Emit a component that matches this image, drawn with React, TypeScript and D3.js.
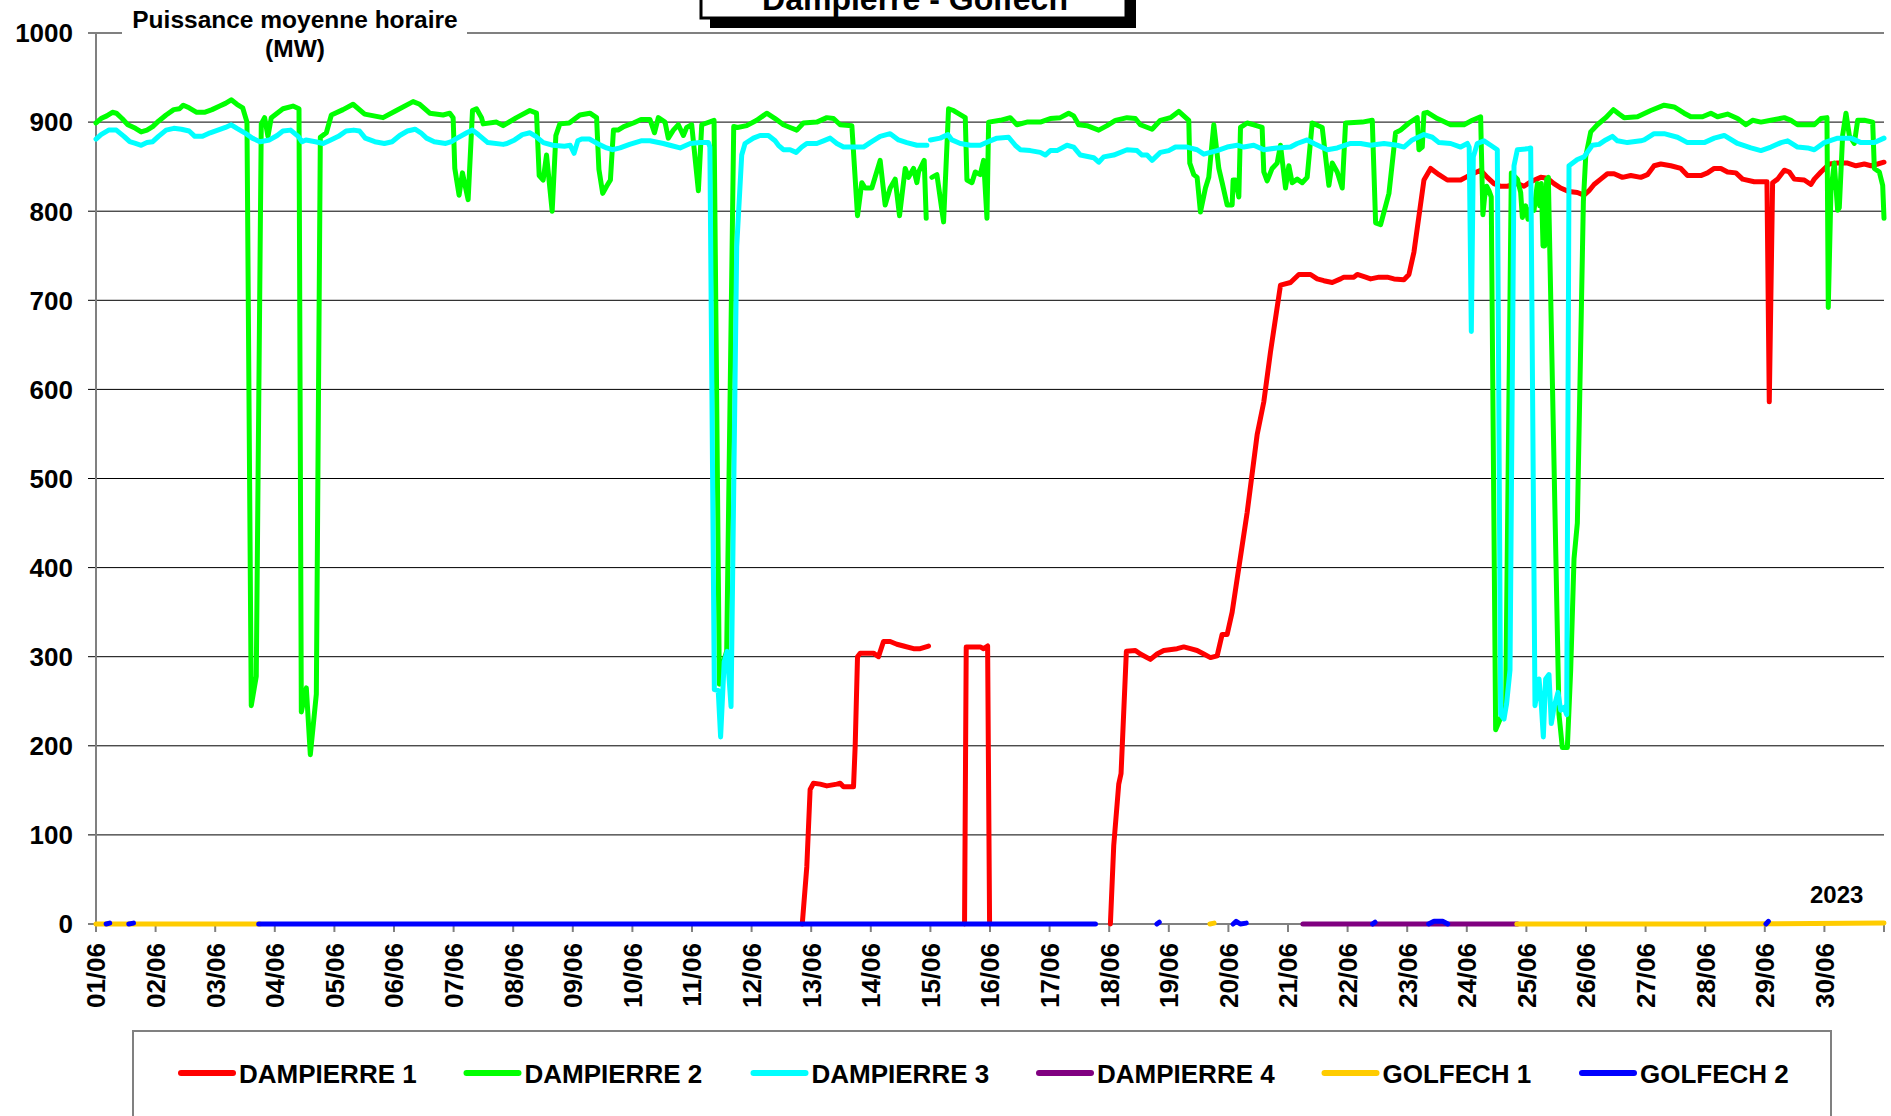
import React from 'react';
import * as d3 from 'd3';

type P = [number, number | null];

const dayLabels = ['01/06','02/06','03/06','04/06','05/06','06/06','07/06','08/06','09/06','10/06','11/06','12/06','13/06','14/06','15/06','16/06','17/06','18/06','19/06','20/06','21/06','22/06','23/06','24/06','25/06','26/06','27/06','28/06','29/06','30/06'];
const yTickValues = [0, 100, 200, 300, 400, 500, 600, 700, 800, 900, 1000];
const seriesNames = ['DAMPIERRE 1', 'DAMPIERRE 2', 'DAMPIERRE 3', 'DAMPIERRE 4', 'GOLFECH 1', 'GOLFECH 2'];
const seriesColors = ['#FF0000', '#00FF00', '#00FFFF', '#800080', '#FFCC00', '#0000FF'];
const chartTitle = 'Dampierre - Golfech';
const yTitle = ['Puissance moyenne horaire', '(MW)'];
const yearLabel = '2023';

// [day offset from 01/06 00:00, MW]; null = no data
const dampierre1: P[] = [
  [11.85,0],[11.926,64],[11.982,151],[12.038,158],[12.15,157],[12.262,155],[12.43,157],[12.486,158],[12.542,154],[12.71,154],[12.738,200],[12.777,300],[12.822,304],[13.045,304],[13.129,300],[13.213,317],[13.325,317],[13.437,314],[13.549,312],[13.717,309],[13.829,309],[13.969,312],
  [14.2,null],
  [14.573,0],[14.601,311],[14.753,311],[14.837,311],[14.893,309],[14.96,312],[14.993,0],
  [16,null],
  [17.02,0],[17.076,88],[17.16,157],[17.199,169],[17.288,306],[17.439,307],[17.523,303],[17.691,297],[17.803,303],[17.915,307],[18.139,309],[18.251,311],[18.363,309],[18.475,307],[18.587,303],[18.699,299],[18.811,301],[18.895,325],[18.979,325],[19.063,350],[19.175,400],[19.315,462],[19.482,549],[19.594,586],[19.706,642],[19.874,717],[20.042,720],[20.182,729],[20.378,729],[20.49,724],[20.602,722],[20.742,720],[20.882,724],[20.938,726],[21.106,726],[21.162,729],[21.302,726],[21.386,724],[21.526,726],[21.666,726],[21.778,724],[21.945,723],[22.029,729],[22.113,754],[22.281,835],[22.393,848],[22.533,841],[22.673,835],[22.897,835],[22.981,838],[23.064,841],[23.232,846],[23.344,838],[23.456,831],[23.568,828],[23.68,828],[23.848,831],[23.96,828],[24.072,833],[24.24,838],[24.351,837],[24.463,831],[24.575,826],[24.715,822],[24.855,821],[24.967,818],[25.051,823],[25.135,830],[25.247,836],[25.359,842],[25.471,842],[25.611,838],[25.751,840],[25.92,838],[26.031,841],[26.143,851],[26.255,853],[26.423,851],[26.591,848],[26.703,840],[26.927,840],[27.039,843],[27.151,848],[27.263,848],[27.375,844],[27.515,843],[27.627,836],[27.823,833],[28.036,833],[28.075,586],[28.131,832],[28.215,836],[28.327,846],[28.411,844],[28.495,836],[28.662,835],[28.774,830],[28.83,836],[28.942,844],[29.082,853],[29.222,854],[29.39,854],[29.53,851],[29.67,853],[29.782,851],[29.894,853],[30,855]
];

const dampierre2: P[] = [
  [0,899],[0.084,904],[0.18,907],[0.276,911],[0.341,910],[0.437,904],[0.534,897],[0.662,893],[0.758,889],[0.855,891],[0.951,895],[1.048,901],[1.176,908],[1.305,914],[1.401,915],[1.465,919],[1.562,916],[1.69,911],[1.819,911],[1.947,914],[2.076,918],[2.172,921],[2.269,925],[2.365,920],[2.461,916],[2.533,900],[2.605,245],[2.689,278],[2.773,898],[2.829,905],[2.885,884],[2.941,905],[3.137,915],[3.305,918],[3.406,915],[3.445,238],[3.529,265],[3.596,190],[3.697,258],[3.764,883],[3.865,888],[3.949,908],[4.145,914],[4.313,920],[4.508,909],[4.816,905],[5.04,913],[5.32,923],[5.432,920],[5.6,910],[5.824,908],[5.936,910],[5.992,905],[6.02,848],[6.092,818],[6.148,843],[6.244,813],[6.317,913],[6.384,915],[6.468,905],[6.496,898],[6.72,900],[6.831,896],[7.055,905],[7.279,913],[7.391,910],[7.436,840],[7.503,835],[7.559,863],[7.654,800],[7.716,885],[7.783,898],[7.94,899],[8.119,908],[8.287,910],[8.399,905],[8.438,847],[8.502,820],[8.567,828],[8.631,835],[8.682,891],[8.759,891],[8.855,895],[9.016,899],[9.145,903],[9.295,903],[9.37,888],[9.435,905],[9.547,900],[9.603,882],[9.687,891],[9.771,897],[9.855,885],[9.911,894],[9.995,897],[10.107,823],[10.163,897],[10.37,902],[10.459,269],[10.498,288],[10.582,306],[10.7,895],[10.762,894],[10.918,896],[11.086,902],[11.254,910],[11.394,904],[11.534,897],[11.646,894],[11.758,891],[11.87,899],[12.094,900],[12.262,905],[12.374,904],[12.486,897],[12.682,896],[12.777,795],[12.849,832],[12.905,826],[13.017,826],[13.157,857],[13.241,807],[13.325,826],[13.409,836],[13.482,795],[13.577,848],[13.633,838],[13.717,848],[13.773,832],[13.801,844],[13.896,857],[13.93,792],
  [13.97,null],
  [14.025,838],[14.109,841],[14.221,788],[14.305,915],[14.389,913],[14.585,905],[14.613,835],[14.697,832],[14.753,844],[14.837,841],[14.893,857],[14.949,792],[14.977,900],[15.172,902],[15.34,905],[15.452,897],[15.62,900],[15.844,900],[16.012,904],[16.18,905],[16.32,910],[16.404,907],[16.488,897],[16.628,896],[16.824,891],[16.964,896],[17.104,902],[17.299,905],[17.439,904],[17.523,897],[17.719,892],[17.859,902],[18.027,905],[18.167,912],[18.335,902],[18.352,854],[18.419,841],[18.475,838],[18.531,799],[18.615,826],[18.671,838],[18.755,897],[18.839,848],[18.895,832],[18.979,807],[19.063,807],[19.079,835],[19.119,835],[19.175,816],[19.203,894],[19.315,899],[19.426,897],[19.566,894],[19.594,844],[19.65,834],[19.734,848],[19.818,854],[19.874,874],[19.958,826],[20.014,851],[20.07,832],[20.154,836],[20.238,832],[20.322,838],[20.406,899],[20.574,894],[20.686,829],[20.742,854],[20.826,844],[20.91,826],[20.966,899],[21.246,900],[21.414,902],[21.47,787],[21.554,785],[21.694,820],[21.805,888],[21.889,891],[22.029,899],[22.169,905],[22.197,869],[22.253,872],[22.281,910],[22.337,911],[22.505,904],[22.729,897],[22.953,897],[23.093,902],[23.232,906],[23.27,796],[23.299,816],[23.333,828],[23.372,823],[23.41,816],[23.484,218],[23.652,245],[23.747,843],[23.848,836],[23.904,821],[23.932,793],[23.988,806],[24.027,791],[24.072,803],[24.128,801],[24.184,831],[24.223,806],[24.251,831],[24.279,761],[24.307,761],[24.34,836],[24.368,838],[24.547,235],[24.603,198],[24.687,198],[24.743,285],[24.799,410],[24.855,450],[24.956,811],[24.995,861],[25.079,889],[25.191,897],[25.331,905],[25.46,914],[25.555,909],[25.639,905],[25.864,906],[26.087,913],[26.311,919],[26.479,917],[26.647,910],[26.759,906],[26.955,906],[27.095,910],[27.207,906],[27.375,909],[27.543,904],[27.683,897],[27.795,902],[27.935,900],[28.103,902],[28.327,905],[28.439,902],[28.55,897],[28.83,897],[28.942,904],[29.043,905],[29.065,692],[29.11,823],[29.166,854],[29.222,801],[29.25,804],[29.306,885],[29.362,910],[29.418,885],[29.502,876],[29.558,902],[29.67,902],[29.81,900],[29.838,848],[29.922,844],[29.978,829],[30,792]
];

const dampierre3: P[] = [
  [0,881],[0.084,886],[0.212,891],[0.341,891],[0.469,884],[0.566,878],[0.662,876],[0.758,874],[0.855,877],[0.951,878],[1.048,884],[1.176,891],[1.305,893],[1.433,892],[1.562,890],[1.658,884],[1.787,884],[1.915,888],[2.044,891],[2.172,894],[2.269,897],[2.365,893],[2.494,888],[2.622,882],[2.751,878],[2.911,880],[3.04,885],[3.136,890],[3.265,891],[3.393,884],[3.457,878],[3.522,880],[3.682,878],[3.811,876],[3.939,880],[4.068,884],[4.196,890],[4.325,891],[4.421,890],[4.518,882],[4.678,878],[4.839,876],[4.968,878],[5.096,885],[5.225,890],[5.353,892],[5.45,888],[5.546,882],[5.675,878],[5.868,876],[5.964,878],[6.06,882],[6.221,888],[6.317,891],[6.414,886],[6.574,877],[6.831,875],[6.896,876],[7.024,880],[7.153,886],[7.281,888],[7.378,884],[7.506,877],[7.667,874],[7.86,873],[7.956,874],[8.021,865],[8.085,879],[8.149,881],[8.278,881],[8.438,875],[8.567,871],[8.663,869],[8.792,871],[8.953,875],[9.145,879],[9.295,879],[9.52,876],[9.63,874],[9.8,871],[9.97,876],[10.135,877],[10.275,877],[10.3,872],[10.375,263],[10.44,262],[10.48,210],[10.54,294],[10.59,306],[10.655,244],[10.75,760],[10.834,863],[10.89,876],[11.03,882],[11.142,885],[11.282,885],[11.394,879],[11.45,874],[11.534,869],[11.646,869],[11.747,866],[11.842,872],[11.926,876],[12.094,876],[12.206,879],[12.318,882],[12.43,876],[12.542,872],[12.766,872],[12.877,872],[12.989,877],[13.157,884],[13.325,887],[13.465,880],[13.605,877],[13.773,874],[13.941,874],
  [13.97,null],
  [14,880],[14.165,882],[14.294,886],[14.361,880],[14.501,876],[14.669,874],[14.837,874],[15.004,879],[15.116,882],[15.312,883],[15.424,874],[15.508,869],[15.676,868],[15.844,866],[15.928,863],[16.012,868],[16.124,868],[16.292,874],[16.404,872],[16.516,863],[16.74,860],[16.824,855],[16.908,861],[17.076,863],[17.299,869],[17.467,868],[17.551,863],[17.635,863],[17.719,857],[17.859,866],[17.999,868],[18.111,872],[18.307,872],[18.475,869],[18.587,864],[18.811,868],[18.979,872],[19.147,874],[19.259,872],[19.426,874],[19.594,869],[19.818,871],[20.042,872],[20.154,876],[20.322,880],[20.434,876],[20.658,869],[20.826,871],[21.05,876],[21.218,876],[21.386,874],[21.61,876],[21.834,874],[21.945,872],[22.085,880],[22.281,886],[22.421,883],[22.533,877],[22.729,876],[22.897,872],[23.009,876],[23.04,872],[23.076,665],[23.109,861],[23.176,876],[23.288,879],[23.4,874],[23.512,869],[23.568,235],[23.624,230],[23.669,248],[23.725,285],[23.792,851],[23.848,869],[24.016,870],[24.072,871],[24.144,245],[24.212,275],[24.251,245],[24.284,210],[24.323,275],[24.379,280],[24.418,225],[24.463,243],[24.53,260],[24.575,240],[24.631,243],[24.676,235],[24.715,851],[24.855,858],[24.967,861],[25.107,874],[25.219,875],[25.331,880],[25.443,884],[25.527,879],[25.695,877],[25.919,879],[25.976,880],[26.143,887],[26.311,887],[26.535,883],[26.703,877],[26.983,877],[27.151,882],[27.319,885],[27.543,876],[27.767,871],[27.935,868],[28.103,872],[28.271,877],[28.383,879],[28.55,872],[28.718,871],[28.83,869],[28.998,877],[29.222,882],[29.446,882],[29.614,877],[29.838,877],[30,882]
];

const dampierre4: P[] = [[20.25,0],[21.1,0],[22.0,0],[23.85,0]];

const golfech1: P[] = [
  [0,0],[1.4,0],[2.75,0],
  [5,null],
  [18.69,0],[18.76,1],
  [20,null],
  [23.84,0],[27,0],[30,1]
];

const golfech2: P[] = [
  [0.17,0],[0.23,1],
  [0.4,null],
  [0.55,0],[0.63,1],
  [1,null],
  [2.73,0],[10,0],[16.77,0],
  [17.2,null],
  [17.8,0],[17.84,2],
  [18.5,null],
  [19.08,0],[19.13,3],[19.2,0],[19.3,1],
  [20.5,null],
  [21.42,0],[21.46,2],
  [22,null],
  [22.36,0],[22.45,3],[22.6,3],[22.68,0],
  [25,null],
  [28.02,0],[28.06,3]
];

const seriesData: P[][] = [dampierre1, dampierre2, dampierre3, dampierre4, golfech1, golfech2];

export default function App() {
  const W = 1891;
  const H = 1116;
  const left = 96;
  const right = 1884;
  const top = 33;
  const bottom = 924;
  const x = d3.scaleLinear().domain([0, 30]).range([left, right]);
  const y = d3.scaleLinear().domain([0, 1000]).range([bottom, top]);
  const line = d3
    .line<P>()
    .defined((d) => d[1] !== null)
    .x((d) => x(d[0]))
    .y((d) => y(d[1] as number));

  const font = "'Liberation Sans', Arial, Helvetica, sans-serif";
  const legendX = [181, 466.5, 753.5, 1039, 1324.5, 1582];
  const dayTicks = d3.range(0, 31);

  return (
    <svg
      width={W}
      height={H}
      viewBox={`0 0 ${W} ${H}`}
      style={{ position: 'absolute', left: 0, top: 0, background: '#fff', fontFamily: font }}
    >
      <rect x={0} y={0} width={W} height={H} fill="#fff" />

      {yTickValues.map((v) => {
        const isEdge = v === 0 || v === 1000;
        return (
          <line
            key={'g' + v}
            x1={left - 8}
            x2={right}
            y1={y(v)}
            y2={y(v)}
            stroke={isEdge ? '#808080' : '#000'}
            strokeWidth={isEdge ? 2 : 1}
          />
        );
      })}

      <line x1={left} x2={left} y1={top} y2={bottom + 8} stroke="#808080" strokeWidth={2} />
      {dayTicks.map((d) => (
        <line key={'xt' + d} x1={x(d)} x2={x(d)} y1={bottom} y2={bottom + 8} stroke="#808080" strokeWidth={2} />
      ))}

      {yTickValues.map((v) => (
        <text key={'yl' + v} x={73} y={y(v)} dy="0.36em" textAnchor="end" fontSize={26} fontWeight="bold" fill="#000">
          {v}
        </text>
      ))}

      {dayLabels.map((lab, i) => (
        <text
          key={'xl' + i}
          transform={`translate(${x(i)},943) rotate(-90)`}
          dy="0.36em"
          textAnchor="end"
          fontSize={26}
          fontWeight="bold"
          fill="#000"
        >
          {lab}
        </text>
      ))}

      {seriesData.map((data, i) => (
        <path
          key={'s' + i}
          d={line(data) || ''}
          fill="none"
          stroke={seriesColors[i]}
          strokeWidth={5}
          strokeLinejoin="round"
          strokeLinecap="round"
        />
      ))}

      <rect x={122} y={0} width={345} height={64} fill="#fff" />
      <text x={295} y={28} textAnchor="middle" fontSize={24.5} fontWeight="bold" fill="#000">
        {yTitle[0]}
      </text>
      <text x={295} y={57} textAnchor="middle" fontSize={24.5} fontWeight="bold" fill="#000">
        {yTitle[1]}
      </text>

      <rect x={710} y={-40} width={426} height={68} fill="#000" />
      <rect x={701} y={-50} width={425} height={68} fill="#fff" stroke="#000" strokeWidth={3} />
      <text x={915} y={10} textAnchor="middle" fontSize={32} fontWeight="bold" fill="#000">
        {chartTitle}
      </text>

      <text x={1810} y={903} fontSize={24} fontWeight="bold" fill="#000">
        {yearLabel}
      </text>

      <rect x={133} y={1031} width={1698} height={200} fill="#fff" stroke="#808080" strokeWidth={2} />
      {seriesNames.map((name, i) => (
        <g key={'lg' + i}>
          <line
            x1={legendX[i]}
            x2={legendX[i] + 52}
            y1={1073}
            y2={1073}
            stroke={seriesColors[i]}
            strokeWidth={6}
            strokeLinecap="round"
          />
          <text x={legendX[i] + 58} y={1083} fontSize={26} fontWeight="bold" fill="#000">
            {name}
          </text>
        </g>
      ))}
    </svg>
  );
}
